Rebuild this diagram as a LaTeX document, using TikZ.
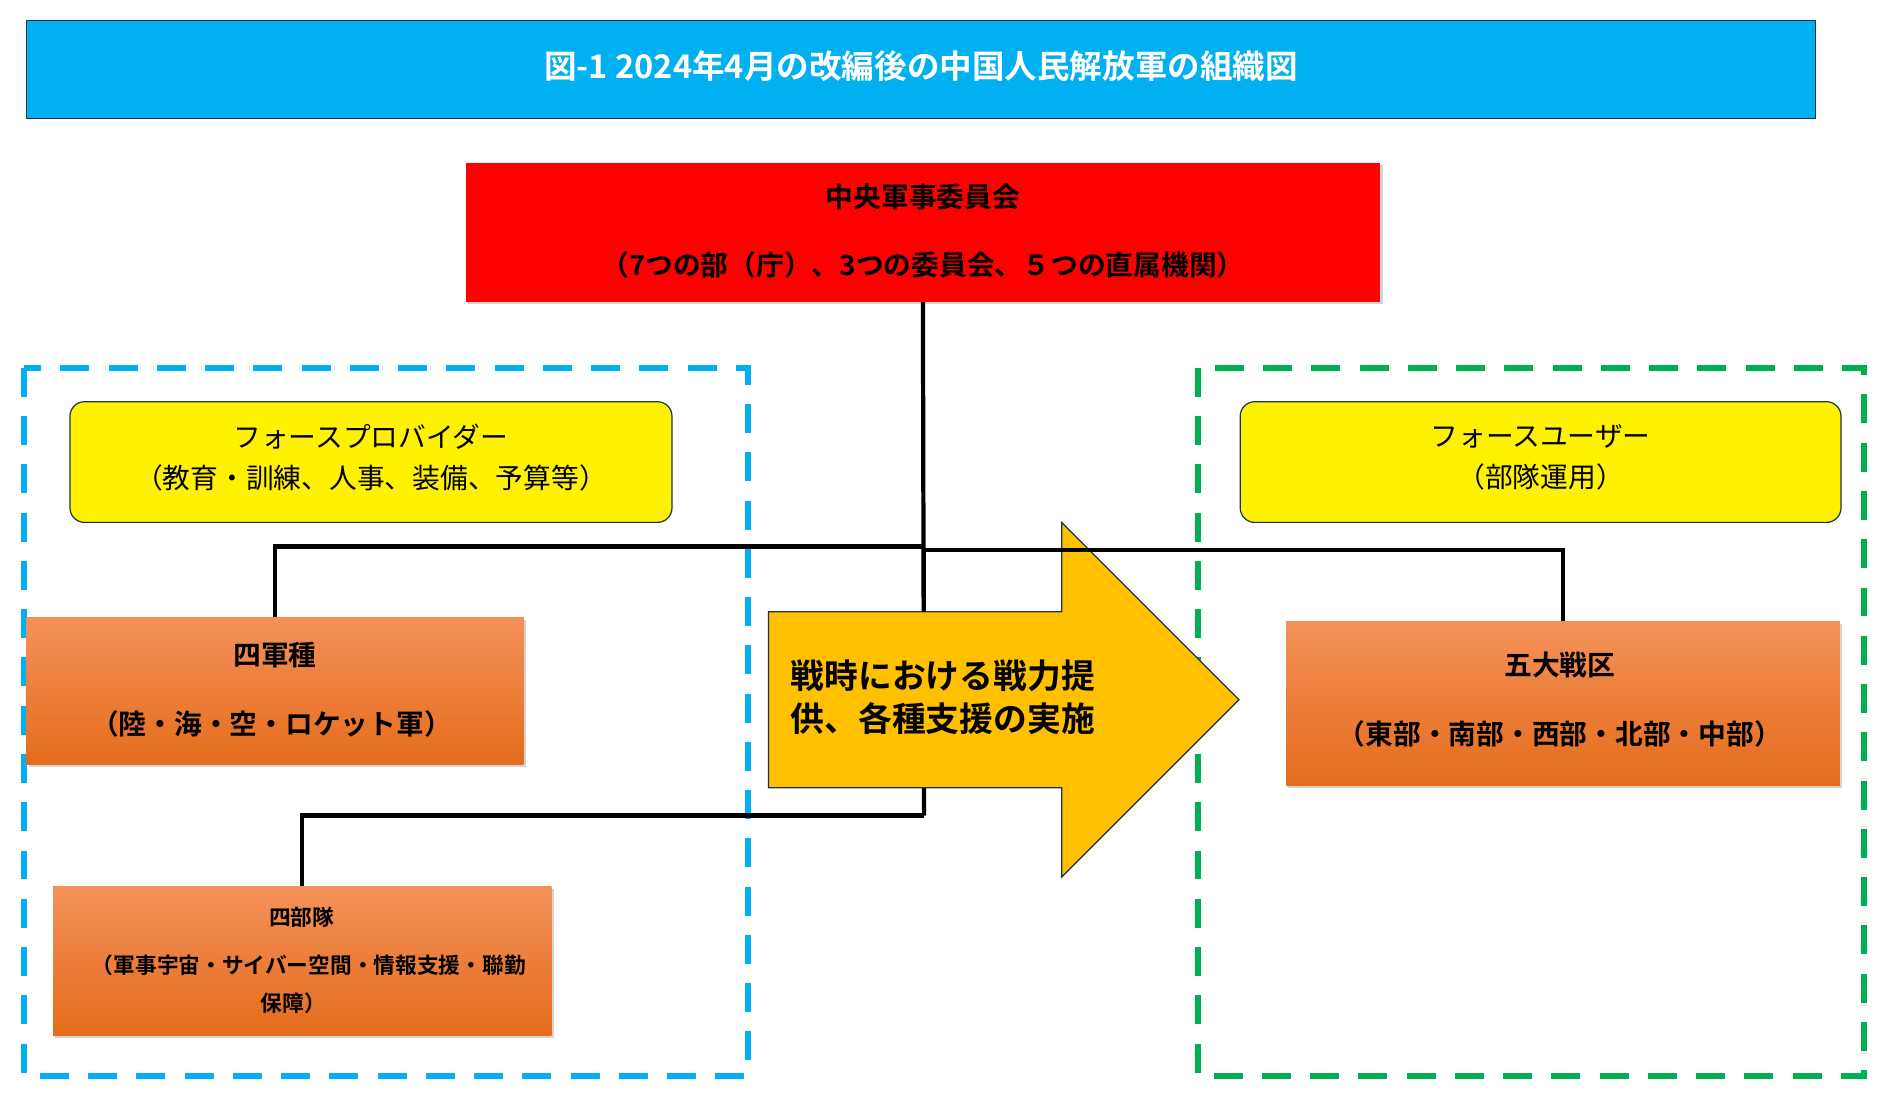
\documentclass[tikz,border=0pt]{standalone}
\usepackage{fontspec}
\setmainfont{Noto Sans CJK JP}
\newfontfamily\jpb{Noto Sans CJK JP Bold}
\usetikzlibrary{shadows}
\definecolor{tblue}{HTML}{00B0F0}
\definecolor{tgreen}{HTML}{00B050}
\definecolor{oTop}{HTML}{F4915A}
\definecolor{oBot}{HTML}{E46C1A}
\definecolor{aYel}{HTML}{FFC000}
\definecolor{navy}{HTML}{1F2F4F}
\tikzset{
 orgbox/.style={top color=oTop,bottom color=oBot,draw=none,drop shadow={shadow xshift=2pt,shadow yshift=-2pt,opacity=0.35}},
 ybox/.style={fill=yellow,draw=navy,line width=1pt,rounded corners=12pt},
 conn/.style={line width=3.5pt},
 grp/.style={line width=5pt,dash pattern=on 24pt off 16pt},
}
\begin{document}
\begin{tikzpicture}[x=1pt,y=-1pt]
\useasboundingbox (0,0) rectangle (1560,912);
% title
\node[draw=navy,line width=1pt,fill=tblue,minimum width=1483pt,minimum height=81pt,inner sep=0] (title) at (763.5,57.5) {};
\node[text=white,font=\jpb\fontsize{27}{30}\selectfont] at (763.5,55) {図-1 2024年4月の改編後の中国人民解放軍の組織図};
% groups
\draw[grp,tblue] (20,305) rectangle (620,892);
\draw[grp,tgreen] (993,305) rectangle (1545,892);
% central commission
\node[fill=red,minimum width=758pt,minimum height=115pt,inner sep=0,drop shadow={shadow xshift=2pt,shadow yshift=-2pt,opacity=0.35}] (cmc) at (765,192.5) {};
\node[font=\jpb\fontsize{23}{26}\selectfont] at (765,163) {中央軍事委員会};
\node[font=\jpb\fontsize{23}{26}\selectfont] at (765,220) {（7つの部（庁）、3つの委員会、５つの直属機関）};
% yellow boxes
\node[ybox,minimum width=499pt,minimum height=100pt,inner sep=0] (fp) at (307.5,383) {};
\node[font=\fontsize{23}{34}\selectfont,align=center] at (307.5,379) {フォースプロバイダー\\（教育・訓練、人事、装備、予算等）};
\node[ybox,minimum width=498pt,minimum height=100pt,inner sep=0] (fu) at (1277,383) {};
\node[font=\fontsize{23}{34}\selectfont,align=center] at (1277,379) {フォースユーザー\\（部隊運用）};
% orange boxes
\node[orgbox,minimum width=412pt,minimum height=122pt,inner sep=0] (gun) at (228,573) {};
\node[font=\jpb\fontsize{23}{26}\selectfont] at (228,543) {四軍種};
\node[font=\jpb\fontsize{23}{26}\selectfont] at (225,600) {（陸・海・空・ロケット軍）};
\node[orgbox,minimum width=413pt,minimum height=123pt,inner sep=0] (bu) at (250.5,796.5) {};
\node[font=\jpb\fontsize{18}{20}\selectfont] at (250,760) {四部隊};
\node[font=\jpb\fontsize{18}{20}\selectfont] at (256,800) {（軍事宇宙・サイバー空間・情報支援・聯勤};
\node[font=\jpb\fontsize{18}{20}\selectfont] at (243,832) {保障）};
\node[orgbox,minimum width=459pt,minimum height=136pt,inner sep=0] (sen) at (1295.5,583) {};
\node[font=\jpb\fontsize{23}{26}\selectfont] at (1293,551) {五大戦区};
\node[font=\jpb\fontsize{23}{26}\selectfont] at (1293,608) {（東部・南部・西部・北部・中部）};
% connectors
\coordinate (j1) at (766,453);
\coordinate (j2) at (766,676);
\draw[conn] (cmc.south) -- (j2);
\draw[conn] (j1) -| (gun.north);
\draw[conn] (j2) -| (bu.north);
% big arrow
\draw[fill=aYel,draw=navy,line width=1pt] (637,507) -- (880,507) -- (880,433) -- (1027,580) -- (880,727) -- (880,653) -- (637,653) -- cycle;
\node[font=\jpb\fontsize{28}{36}\selectfont,align=left,anchor=west] (arr) at (652,578) {戦時における戦力提\\供、各種支援の実施};
\draw[conn] (766,455) -- (766,507);
\draw[conn] (766,456) -| (sen.north);
\end{tikzpicture}
\end{document}
